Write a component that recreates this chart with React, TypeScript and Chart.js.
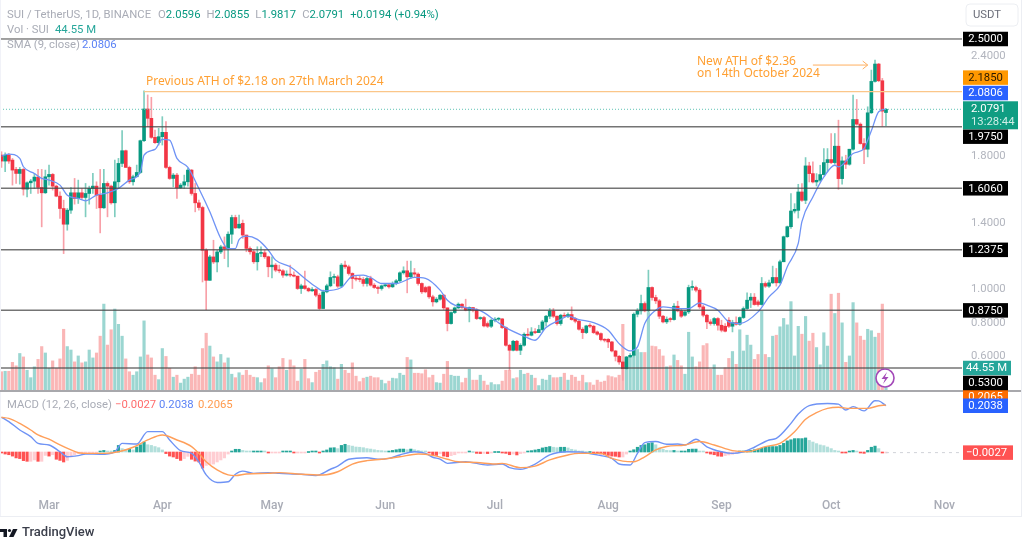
import React, { useEffect, useRef } from "react";
import { Chart, registerables } from "chart.js";

Chart.register(...registerables);

// ---- Candles, index 0 = 17 Feb 2024 (one value per trading day) ----
const opens = [
  1.805,1.769,1.805,1.775,1.719,1.695,1.719,1.601,1.639,1.649,
  1.673,1.611,1.579,1.675,1.689,1.619,1.559,1.485,1.391,1.475,
  1.579,1.545,1.579,1.551,1.575,1.605,1.619,1.565,1.489,1.635,
  1.619,1.519,1.645,1.755,1.831,1.731,1.645,1.675,1.701,1.891,
  2.081,2.025,1.911,1.879,1.915,1.941,1.731,1.665,1.685,1.609,
  1.625,1.645,1.715,1.575,1.519,1.491,1.235,1.055,1.195,1.165,
  1.225,1.255,1.245,1.331,1.431,1.369,1.396,1.326,1.246,1.226,
  1.166,1.216,1.220,1.196,1.136,1.146,1.116,1.112,1.086,1.092,
  1.086,1.080,1.006,1.022,1.006,.992,1.000,.966,.886,.986,
  1.022,1.072,1.076,1.020,1.146,1.136,1.096,1.066,1.062,1.060,
  1.036,1.066,1.026,1.012,1.006,1.022,1.028,1.016,1.036,1.052,
  1.100,1.112,1.076,1.100,1.092,1.036,1.012,1.016,.956,.926,
  .942,.966,.890,.796,.862,.890,.912,.892,.876,.892,
  .876,.826,.832,.796,.780,.816,.822,.824,.772,.666,
  .636,.690,.636,.666,.732,.726,.746,.742,.760,.806,
  .840,.870,.840,.796,.846,.840,.850,.826,.810,.762,
  .742,.782,.780,.746,.736,.700,.702,.686,.632,.600,
  .566,.526,.596,.606,.852,.872,.916,.872,1.012,.952,
  .932,.840,.806,.822,.820,.900,.872,.846,.866,1.012,
  1.012,.996,.896,.846,.806,.796,.826,
  .786,.780,.816,.780,.802,.792,.832,.886,.936,.954,
  .926,.910,1.036,1.020,1.040,1.072,1.040,1.166,1.316,1.376,
  1.470,1.474,1.584,1.534,1.740,1.694,1.644,1.654,1.688,1.760,
  1.778,1.760,1.858,1.664,1.770,1.750,1.840,2.018,1.990,1.874,
  1.840,2.058,2.246,2.350,2.250,2.0596,
];
const closes = [
  1.769,1.805,1.769,1.715,1.695,1.719,1.601,1.639,1.649,1.673,
  1.611,1.579,1.675,1.689,1.619,1.559,1.485,1.391,1.475,1.579,
  1.545,1.579,1.551,1.575,1.605,1.619,1.565,1.489,1.635,1.619,
  1.519,1.645,1.755,1.831,1.731,1.645,1.675,1.701,1.891,2.081,
  2.025,1.911,1.879,1.915,1.941,1.731,1.665,1.685,1.609,1.625,
  1.645,1.715,1.575,1.519,1.491,1.235,1.055,1.195,1.165,1.225,
  1.255,1.245,1.331,1.431,1.369,1.391,1.326,1.246,1.226,1.166,
  1.216,1.220,1.196,1.136,1.146,1.116,1.112,1.086,1.092,1.086,
  1.080,1.006,1.022,1.006,.992,1.000,.966,.886,.986,1.022,
  1.072,1.076,1.020,1.146,1.136,1.096,1.066,1.062,1.060,1.036,
  1.066,1.026,1.012,1.006,1.022,1.028,1.016,1.036,1.052,1.100,
  1.112,1.076,1.100,1.092,1.036,.986,.986,.956,.926,.942,
  .966,.890,.796,.862,.890,.912,.892,.876,.892,.876,
  .826,.830,.782,.780,.816,.822,.824,.772,.666,.636,
  .690,.636,.666,.732,.726,.746,.742,.760,.806,.840,
  .870,.840,.796,.846,.840,.850,.820,.810,.762,.742,
  .782,.780,.742,.732,.700,.696,.686,.632,.600,.566,
  .526,.596,.606,.852,.872,.916,.872,1.012,.952,.932,
  .840,.806,.822,.820,.900,.872,.840,.866,1.012,1.016,
  .996,.896,.846,.806,.796,.826,.786,
  .756,.750,.780,.802,.792,.832,.886,.936,.954,.910,
  .910,1.036,1.020,1.040,1.072,1.040,1.166,1.316,1.376,1.470,
  1.480,1.584,1.534,1.740,1.694,1.644,1.654,1.688,1.760,1.778,
  1.760,1.858,1.664,1.770,1.750,1.840,2.018,1.990,1.874,1.840,
  2.058,2.246,2.350,2.250,2.068,2.0791,
];
const highs = [
  1.825,1.819,1.815,1.785,1.731,1.731,1.725,1.645,1.659,1.695,
  1.719,1.719,1.715,1.745,1.695,1.625,1.585,1.535,1.485,1.611,
  1.665,1.655,1.605,1.635,1.619,1.695,1.645,1.719,1.719,1.645,
  1.625,1.775,1.785,1.951,1.835,1.739,1.685,1.745,1.895,2.189,
  2.165,2.151,1.955,1.965,2.035,2.005,1.739,1.695,1.695,1.635,
  1.685,1.725,1.719,1.635,1.535,1.499,1.245,1.205,1.295,1.235,
  1.265,1.315,1.345,1.445,1.445,1.445,1.416,1.326,1.256,1.236,
  1.256,1.256,1.236,1.200,1.196,1.156,1.146,1.120,1.112,1.146,
  1.106,1.080,1.032,1.110,1.012,1.012,1.006,.976,.996,1.032,
  1.106,1.092,1.086,1.156,1.170,1.146,1.100,1.080,1.080,1.072,
  1.076,1.080,1.036,1.020,1.026,1.036,1.036,1.046,1.060,1.106,
  1.136,1.170,1.170,1.126,1.100,1.040,1.020,1.020,.966,.952,
  .970,.970,.890,.866,.896,.920,.916,.942,.896,.892,
  .886,.836,.840,.806,.824,.832,.832,.826,.776,.672,
  .696,.696,.676,.740,.766,.772,.766,.786,.816,.846,
  .886,.886,.842,.852,.860,.860,.896,.832,.816,.772,
  .786,.796,.786,.752,.740,.706,.706,.690,.636,.606,
  .572,.600,.616,.860,.886,.966,.926,1.116,1.016,.966,
  .940,.846,.836,.832,.916,.930,.886,.876,1.026,1.052,
  1.020,1.006,.906,.852,.820,.832,.832,
  .816,.796,.832,.816,.836,.836,.896,.980,.976,.976,
  .936,1.072,1.046,1.056,1.140,1.126,1.176,1.320,1.380,1.574,
  1.514,1.630,1.634,1.790,1.762,1.764,1.694,1.744,1.844,1.844,
  1.934,1.934,2.014,1.794,1.804,1.840,2.164,2.138,1.998,1.904,
  2.094,2.314,2.374,2.354,2.264,2.0855,
];
const lows = [
  1.731,1.705,1.755,1.625,1.635,1.631,1.565,1.555,1.575,1.605,
  1.575,1.375,1.575,1.625,1.595,1.555,1.425,1.215,1.355,1.455,
  1.511,1.515,1.539,1.435,1.511,1.575,1.485,1.339,1.485,1.435,
  1.511,1.435,1.605,1.735,1.731,1.635,1.625,1.675,1.695,1.885,
  1.975,1.905,1.875,1.865,1.865,1.725,1.659,1.615,1.545,1.605,
  1.605,1.619,1.565,1.465,1.475,1.045,.879,1.055,1.155,1.105,
  1.215,1.185,1.135,1.275,1.365,1.365,1.306,1.226,1.212,1.156,
  1.116,1.196,1.186,1.076,1.070,1.106,1.100,1.072,1.080,1.076,
  1.076,1.000,.976,1.000,.986,.988,.956,.880,.886,.980,
  1.016,1.036,1.012,1.012,1.126,1.086,1.006,1.052,1.046,1.020,
  1.020,1.020,1.006,.976,.996,1.016,1.008,1.012,1.028,1.046,
  1.092,.980,1.066,1.072,1.026,.976,.980,.946,.900,.920,
  .936,.880,.752,.792,.856,.886,.886,.872,.806,.866,
  .820,.820,.776,.772,.772,.806,.812,.766,.660,.516,
  .632,.632,.610,.660,.720,.722,.736,.742,.752,.780,
  .826,.832,.786,.786,.832,.832,.816,.800,.756,.706,
  .736,.772,.736,.726,.692,.686,.652,.626,.572,.552,
  .456,.520,.592,.596,.836,.852,.866,.866,.936,.916,
  .826,.800,.796,.806,.816,.866,.832,.840,.856,.996,
  .986,.886,.836,.766,.786,.786,.756,
  .746,.746,.772,.746,.786,.786,.826,.880,.892,.906,
  .900,.906,1.012,1.012,1.036,1.020,1.036,1.166,1.312,1.366,
  1.458,1.428,1.528,1.514,1.644,1.638,1.620,1.644,1.684,1.704,
  1.754,1.750,1.600,1.630,1.724,1.744,1.834,1.984,1.870,1.754,
  1.794,2.054,2.242,2.244,1.978,1.9817,
];
// Volume, in millions
const volumes = [
  39,40,40,58,51,76,69,42,27,49,
  64,90,77,46,61,46,65,125,90,83,
  59,71,57,59,83,67,77,111,176,93,
  124,166,135,111,65,39,32,39,69,142,
  73,67,32,23,86,70,46,28,32,16,
  24,28,34,49,32,86,117,91,69,59,
  74,57,67,34,27,37,32,42,32,28,
  27,17,25,51,45,27,49,66,42,63,
  51,20,44,64,25,17,38,42,54,61,
  49,47,24,54,42,36,57,30,19,26,
  28,30,27,27,22,15,20,26,25,36,
  32,68,63,36,36,35,43,27,32,17,
  16,34,60,32,30,30,17,26,44,22,
  22,32,20,12,17,13,13,20,42,42,
  25,27,42,34,36,32,26,11,24,22,
  32,27,27,28,36,22,32,28,20,32,
  17,17,12,22,18,20,31,29,27,32,
  135,66,68,74,84,78,78,159,91,90,
  84,71,49,51,73,62,51,34,119,69,
  49,59,92,96,44,53,32,
  32,47,66,80,54,124,81,113,93,64,
  74,162,74,68,111,113,130,147,134,181,
  71,131,115,151,101,117,88,53,118,91,
  196,157,198,138,58,71,179,138,111,103,
  125,122,109,117,176,44.55,
];
// MACD histogram
const macdHist = [
  -.003,-.009,-.012,-.018,-.026,-.029,-.038,-.041,-.041,-.035,
  -.041,-.041,-.015,-.018,-.012,-.032,-.037,-.044,-.037,-.022,
  -.012,-.007,-.006,-.004,-.004,-.003,-.003,.004,.007,.004,
  .001,.007,.029,.015,.012,.012,.009,.022,.032,.044,
  .032,.029,.024,.019,.009,-.007,-.018,-.022,-.029,-.037,
  -.029,-.019,-.032,-.040,-.044,-.071,-.059,-.056,-.053,-.044,
  -.035,-.026,-.009,.004,.012,.012,.007,.004,.002,.002,
  .003,.003,.002,-.002,-.002,-.002,-.002,.002,.002,.003,
  -.002,-.002,-.002,
  -.002,0,.002,.002,-.004,.004,.009,.018,.019,.015,
  .029,.034,.029,.026,.022,.021,.019,.015,.013,.010,
  .007,.006,.004,.004,.007,.010,.013,.013,.010,.013,
  .010,.007,.004,.003,-.003,-.012,-.015,-.007,-.018,-.021,
  -.016,-.012,-.004,-.003,-.002,.001,0,-.006,-.007,-.006,
  -.007,-.002,0,0,-.002,-.006,-.012,-.009,-.013,-.007,
  -.003,.004,.006,.009,.012,.018,.021,.024,.021,.019,
  .021,.021,.018,.012,.009,.003,.002,0,0,-.002,
  -.004,
  -.009,-.012,-.015,-.018,-.019,-.022,-.022,-.009,.004,.010,
  .021,.029,.032,.038,.041,.032,.018,.012,.007,.006,
  .007,.003,.003,.003,.012,.013,.013,.004,.002,-.004,
  -.009,-.012,-.018,-.019,-.016,-.013,-.010,-.006,.003,.004,
  .007,.007,.010,.013,.016,.021,.024,.024,.024,.029,
  .038,.049,.054,.059,.059,.059,.062,.051,.044,.037,
  .031,.028,.022,.015,.007,.002,-.003,-.004,.004,.007,
  .004,-.004,-.006,.007,.021,.026,.015,-.003,
  -.0027,
];
// SMA (9): day index and value
const smaDays = [0,2,5,6,9,11,13,16,18,21,23,26,29,32,35,38,39,42,44,46,48,51,54,57,60,62,64,65,67,70,73,75,79,83,86,88,93,96,99,101,104,108,113,116,120,122,124,127,131,135,138,143,146,149,153,155,158,162,166,169,172,174,176,179,181,185,188,191,193,196,199,202,207,210,213,215,218,219,222,225,228,229,233,236,237,238,240,242];
const smaValues = [1.799,1.811,1.785,1.735,1.695,1.665,1.655,1.625,1.565,1.545,1.531,1.565,1.579,1.605,1.655,1.705,1.805,1.839,1.899,1.895,1.785,1.731,1.605,1.465,1.305,1.245,1.245,1.299,1.320,1.300,1.236,1.176,1.136,1.066,1.016,.992,1.012,1.080,1.086,1.072,1.036,1.036,1.072,1.066,.996,.936,.906,.892,.873,.816,.772,.720,.696,.772,.820,.840,.820,.802,.756,.676,.632,.656,.796,.876,.896,.886,.886,.920,.906,.876,.806,.796,.866,.956,1.026,1.136,1.276,1.406,1.554,1.674,1.744,1.734,1.814,1.844,1.894,1.950,2.064,2.0806];
// MACD line
const macdDays = [0,2,5,8,10,13,16,18,21,23,27,31,33,37,40,44,46,49,52,54,56,59,62,64,66,69,73,76,82,86,90,92,95,100,103,106,109,113,116,118,120,122,127,133,137,139,142,146,150,155,158,164,167,169,172,174,176,179,182,185,187,190,193,197,200,203,206,210,212,216,218,221,226,229,231,233,236,239,240,242];
const macdValues = [.153,.134,.097,.068,.038,.031,.001,-.021,-.016,-.009,-.010,.001,.038,.035,.090,.090,.053,.006,-.006,-.043,-.101,-.134,-.131,-.098,-.084,-.094,-.091,-.094,-.098,-.104,-.076,-.062,-.032,-.025,-.032,-.028,-.013,.001,-.006,-.023,-.031,-.050,-.043,-.057,-.053,-.069,-.076,-.053,-.013,.001,0,-.016,-.028,-.053,-.057,-.006,.041,.046,.034,.035,.031,.056,.023,.001,-.006,.001,.021,.053,.060,.126,.167,.204,.214,.211,.185,.200,.181,.226,.225,.2038];
// Signal line
const signalDays = [0,2,5,8,10,13,16,19,21,24,28,32,36,40,44,48,52,54,56,59,62,64,67,73,76,82,88,92,96,100,104,109,114,118,122,125,130,135,137,142,146,150,155,158,164,167,170,173,176,179,182,187,191,195,200,204,209,213,217,220,223,226,229,232,237,240,242];
const signalValues = [.153,.148,.126,.097,.075,.057,.031,.009,-.003,-.006,-.006,.001,.021,.053,.075,.053,.024,-.006,-.043,-.079,-.101,-.104,-.097,-.094,-.091,-.098,-.101,-.087,-.053,-.038,-.032,-.021,-.009,-.015,-.032,-.043,-.046,-.053,-.050,-.069,-.062,-.035,-.013,-.006,-.006,-.028,-.040,-.043,-.021,.009,.024,.031,.046,.031,.006,.001,.024,.038,.089,.144,.173,.192,.197,.192,.192,.204,.2065];

const supportLevels = [2.5, 1.975, 1.606, 1.2375, 0.875, 0.53];
const previousAth = 2.185;
const lastPrice = 2.0791;
const athDay = 39;
const monthDays = [13, 44, 74, 105, 135, 166, 197, 227, 258];
const monthNames = ["Mar", "Apr", "May", "Jun", "Jul", "Aug", "Sep", "Oct", "Nov"];
const priceTicks = [2.4, 1.8, 1.4, 1.0, 0.8, 0.6];
const arrowDays = [222, 237];
const arrowPrice = 2.344;

const FONT = 'Roboto, sans-serif';
const UP = "#089981";
const DOWN = "#f23645";
const GREY = "#b2b5be";

const priceTags = [
  { text: "2.5000", value: 2.5, shift: 0, bg: "#000", fg: "#fff", w: 45 },
  { text: "2.1850", value: 2.185, shift: -14, bg: "#ff9800", fg: "#2a1a00", w: 45 },
  { text: "2.0806", value: 2.0806, shift: -16, bg: "#2962ff", fg: "#fff", w: 45 },
  { text: "1.9750", value: 1.975, shift: 10, bg: "#000", fg: "#fff", w: 45 },
  { text: "1.6060", value: 1.606, shift: 0, bg: "#000", fg: "#fff", w: 45 },
  { text: "1.2375", value: 1.2375, shift: 0, bg: "#000", fg: "#fff", w: 45 },
  { text: "0.8750", value: 0.875, shift: 0, bg: "#000", fg: "#fff", w: 45 },
  { text: "0.5300", value: 0.53, shift: 15, bg: "#000", fg: "#fff", w: 45 },
];

const overlay = {
  id: "overlay",
  afterDraw(chart: any) {
    const { ctx, scales } = chart;
    const price = scales.price, macd = scales.macd, volume = scales.volume, x = scales.x;
    ctx.save();
    ctx.textBaseline = "middle";

    // frames
    ctx.fillStyle = "#eceef3";
    ctx.fillRect(0, 516, 1022, 1);
    ctx.fillRect(1021, 0, 1, 517);
    ctx.fillStyle = "#f1f2f8";
    ctx.fillRect(0, 0, 1, 516);
    ctx.fillStyle = "#a8a8ac";
    ctx.fillRect(0, 390, 1021, 2);

    const seg = (s: string, px: number, y: number, color: string, font = `11.3px ${FONT}`) => {
      ctx.font = font;
      ctx.fillStyle = color;
      ctx.textAlign = "left";
      ctx.fillText(s, px, y);
      return px + ctx.measureText(s).width;
    };

    // legend rows
    let p = seg("SUI / TetherUS, 1D, BINANCE", 7, 15, "#a9acb6");
    const ohlc = [["O", "2.0596"], ["H", "2.0855"], ["L", "1.9817"], ["C", "2.0791"]];
    p += 7;
    for (const [a, b] of ohlc) {
      p = seg(a, p, 15, "#a9acb6");
      p = seg(b, p, 15, UP) + 6;
    }
    seg("+0.0194 (+0.94%)", p, 15, UP);
    seg("Vol · SUI", 7, 30, "#a9acb6");
    seg("44.55 M", 55, 30, "#26a69a");
    seg("SMA (9, close)", 7, 45, "#a9acb6");
    seg("2.0806", 82, 45, "#5b82f5");
    seg("MACD (12, 26, close)", 7, 405, "#a9acb6");
    seg("−0.0027", 115, 405, "#ff6b6b");
    seg("0.2038", 159, 405, "#5b82f5");
    seg("0.2065", 198, 405, "#ff9a4d");

    // annotations
    const ann = "#ffa033";
    const annFont = `12px "Noto Sans", sans-serif`;
    seg("Previous ATH of $2.18 on 27th March 2024", 146, 82, ann, annFont);
    seg("New ATH of $2.36", 697, 62, ann, annFont);
    seg("on 14th October 2024", 697, 74, ann, annFont);
    const ax = x.getPixelForValue(arrowDays[1]);
    const ay = price.getPixelForValue(arrowPrice);
    ctx.strokeStyle = "#ffb060";
    ctx.lineWidth = 1;
    ctx.beginPath();
    ctx.moveTo(ax - 5, ay - 4);
    ctx.lineTo(ax, ay);
    ctx.lineTo(ax - 5, ay + 4);
    ctx.stroke();

    // lightning badge
    ctx.beginPath();
    ctx.arc(885, 378, 9, 0, Math.PI * 2);
    ctx.fillStyle = "#fff";
    ctx.fill();
    ctx.lineWidth = 1.6;
    ctx.strokeStyle = "#a349b8";
    ctx.stroke();
    ctx.fillStyle = "#a349b8";
    ctx.beginPath();
    ctx.moveTo(887, 372);
    ctx.lineTo(881.5, 379);
    ctx.lineTo(885, 379);
    ctx.lineTo(883, 384);
    ctx.lineTo(888.5, 377);
    ctx.lineTo(885, 377);
    ctx.closePath();
    ctx.fill();

    // USDT button
    ctx.beginPath();
    ctx.roundRect(966, 4, 52, 22, 4);
    ctx.fillStyle = "#fff";
    ctx.fill();
    ctx.strokeStyle = "#eceef2";
    ctx.lineWidth = 1;
    ctx.stroke();
    ctx.textAlign = "center";
    ctx.font = `11.3px ${FONT}`;
    ctx.fillStyle = "#6a6d78";
    ctx.fillText("USDT", 987, 15.5);

    // price tags
    const tag = (text: string, y: number, bg: string, fg: string, w: number, h = 14.5) => {
      ctx.fillStyle = bg;
      ctx.fillRect(963, y - h / 2, w, h);
      ctx.fillStyle = fg;
      ctx.font = `11.3px ${FONT}`;
      ctx.textAlign = "center";
      ctx.fillText(text, 963 + 45 / 2 + (w > 45 ? 1 : 0), y + 0.5);
    };
    const signalY = macd.getPixelForValue(0.2065);
    tag("0.2065", signalY - 8, "#ff6d00", "#fff", 45);
    tag("0.2038", macd.getPixelForValue(0.2038), "#2962ff", "#fff", 45);
    tag("−0.0027", macd.getPixelForValue(-0.0027), "#ff5252", "#fff", 50);
    tag("44.55 M", volume.getPixelForValue(44.55) - 1, "#26a69a", "#fff", 48);
    for (const t of priceTags) {
      tag(t.text, price.getPixelForValue(t.value) + t.shift, t.bg, t.fg, t.w);
    }
    // last price block
    const ly = price.getPixelForValue(lastPrice);
    ctx.fillStyle = "#0f9d82";
    ctx.fillRect(963, ly - 8, 55, 28);
    ctx.textAlign = "left";
    ctx.font = `11.3px ${FONT}`;
    ctx.fillStyle = "#fff";
    ctx.fillText("2.0791", 971, ly);
    ctx.fillStyle = "#cfeee7";
    ctx.fillText("13:28:44", 971, ly + 13);

    // TradingView mark
    ctx.fillStyle = "#131722";
    ctx.fillRect(0, 529, 7, 3);
    ctx.fillRect(3.5, 529, 3.5, 8);
    ctx.beginPath();
    ctx.arc(9.5, 530.5, 1.6, 0, Math.PI * 2);
    ctx.fill();
    ctx.beginPath();
    ctx.moveTo(13, 529);
    ctx.lineTo(17.5, 529);
    ctx.lineTo(13.5, 537);
    ctx.lineTo(9, 537);
    ctx.closePath();
    ctx.fill();
    seg("TradingView", 22, 533, "#3a3e4a", `500 13px ${FONT}`);
    ctx.restore();
  },
};

const X_MIN = -0.41;
const X_MAX = 262.8;

function lineDs(xs: number[], ys: number[], color: string, width: number, yAxisID: string, extra: any = {}) {
  return {
    type: "line",
    data: xs.map((d, i) => ({ x: d, y: ys[i] })),
    borderColor: color,
    borderWidth: width,
    pointRadius: 0,
    yAxisID,
    xAxisID: "x",
    ...extra,
  };
}

function barDs(xs: any[], color: any, thickness: number, yAxisID: string, order: number) {
  return {
    type: "bar",
    data: xs,
    backgroundColor: color,
    barThickness: thickness,
    yAxisID,
    xAxisID: "x",
    order,
    minBarLength: 1,
    borderWidth: 0,
  };
}

const noPadY = (s: any) => {
  s.paddingTop = 0;
  s.paddingBottom = 0;
};

export default function App() {
  const ref = useRef<HTMLCanvasElement | null>(null);
  useEffect(() => {
    const days = closes.map((_, i) => i);
    const isUp = (i: number) => closes[i] >= opens[i];
    const histColor = macdHist.map((v, i) => {
      const prev = i > 0 ? macdHist[i - 1] : 0;
      if (v >= 0) return v >= prev ? "#26a69a" : "#b2dfdb";
      return v < prev ? "#ff5252" : "#ffcdd2";
    });
    const datasets: any[] = [
      barDs(days.map((i) => ({ x: i, y: volumes[i] })), days.map((i) => (isUp(i) ? "rgba(38,166,154,0.46)" : "rgba(242,80,80,0.42)")), 2.5, "volume", 20),
      barDs(days.map((i) => ({ x: i, y: macdHist[i] })), histColor, 2.5, "macd", 19),
      barDs(days.map((i) => ({ x: i, y: [lows[i], highs[i]] })), days.map((i) => (isUp(i) ? "#7fcdbf" : "#f8a0a8")), 1, "price", 6),
      barDs(days.map((i) => ({ x: i, y: [opens[i], closes[i]] })), days.map((i) => (isUp(i) ? UP : DOWN)), 3, "price", 5),
      lineDs(smaDays, smaValues, "#6f93f5", 1.3, "price", { order: 3, cubicInterpolationMode: "monotone" }),
      lineDs(macdDays, macdValues, "#6f93f5", 1.4, "macd", { order: 3, cubicInterpolationMode: "monotone" }),
      lineDs(signalDays, signalValues, "#ff9f5a", 1.4, "macd", { order: 2, cubicInterpolationMode: "monotone" }),
      ...supportLevels.map((v, i) => lineDs([X_MIN, X_MAX], [v, v], i === 0 ? "#444" : "rgba(70,70,70,0.75)", i === 0 ? 1 : 1.5, "price", { order: 1 })),
      lineDs([athDay, X_MAX], [previousAth, previousAth], "#fbc689", 1.2, "price", { order: 1 }),
      lineDs([X_MIN, X_MAX], [lastPrice, lastPrice], "#5fc4b4", 1, "price", { order: 1, borderDash: [1, 2] }),
      lineDs(arrowDays, [arrowPrice, arrowPrice], "#ffb060", 1, "price", { order: 1 }),
      lineDs([days[days.length - 1], X_MAX], [-0.0027, -0.0027], "#d0d2d8", 1, "macd", { order: 1, borderDash: [3, 4] }),
    ];
    const chart = new Chart(ref.current as any, {
      type: "bar",
      data: { datasets },
      plugins: [overlay],
      options: {
        animation: false,
        responsive: false,
        devicePixelRatio: 1,
        events: [],
        layout: { padding: { left: 0, right: 0, top: 0, bottom: 25 } },
        datasets: { bar: { grouped: false } },
        plugins: { legend: { display: false }, tooltip: { enabled: false } },
        scales: {
          x: {
            type: "linear",
            offset: false,
            min: X_MIN,
            max: X_MAX,
            grid: { display: false, drawTicks: false },
            border: { display: false },
            afterBuildTicks: (s: any) => {
              s.ticks = monthDays.map((v) => ({ value: v }));
            },
            afterFit: (s: any) => {
              s.height = 19;
              s.paddingLeft = 0;
              s.paddingRight = 0;
            },
            ticks: {
              autoSkip: false,
              maxRotation: 0,
              padding: 2,
              color: "#a9acb6",
              font: { family: "Roboto", size: 12, weight: "500" },
              callback: (v: any) => monthNames[monthDays.indexOf(v)] ?? "",
            },
          },
          price: {
            type: "linear",
            position: "right",
            min: -0.2425,
            max: 2.7335,
            grid: { display: false, drawTicks: false },
            border: { display: false },
            afterBuildTicks: (s: any) => {
              s.ticks = priceTicks.map((v) => ({ value: v }));
            },
            afterFit: (s: any) => {
              s.width = 62;
              noPadY(s);
            },
            ticks: {
              padding: 9,
              color: GREY,
              font: { family: "Roboto", size: 11.3 },
              callback: (v: any) => Number(v).toFixed(4),
            },
          },
          volume: { type: "linear", position: "right", display: false, min: -214.65, max: 791.8, afterFit: noPadY },
          macd: { type: "linear", position: "right", display: false, min: -0.1982, max: 1.9912, afterFit: noPadY },
        },
      },
    } as any);
    return () => chart.destroy();
  }, []);
  return (
    <div style={{ position: "fixed", left: 0, top: 0, width: 1024, height: 541, background: "#fff" }}>
      <canvas ref={ref} width={1024} height={541} style={{ display: "block", width: 1024, height: 541 }} />
    </div>
  );
}
